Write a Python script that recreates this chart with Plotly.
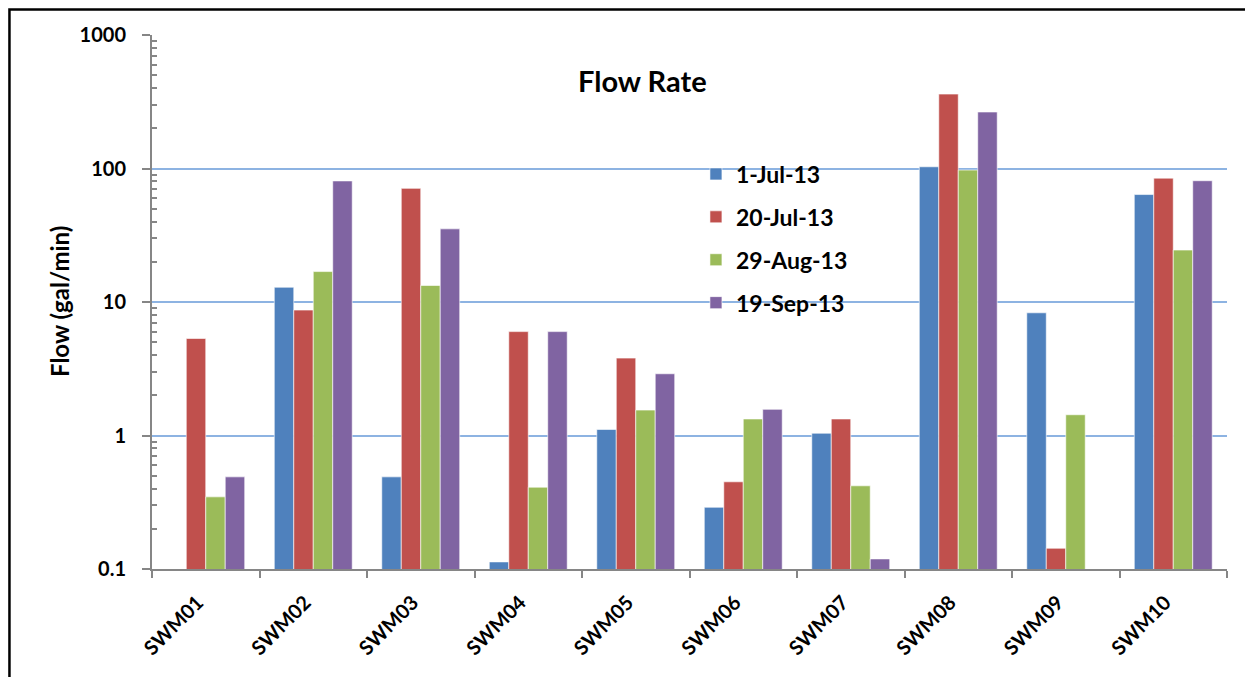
import plotly.graph_objects as go

categories = ["SWM01", "SWM02", "SWM03", "SWM04", "SWM05",
              "SWM06", "SWM07", "SWM08", "SWM09", "SWM10"]
series_names = ["1-Jul-13", "20-Jul-13", "29-Aug-13", "19-Sep-13"]
jul01 = [None, 12.9, 0.49, 0.113, 1.11, 0.29, 1.04, 103, 8.3, 63.8]
jul20 = [5.33, 8.7, 71, 6.0, 3.8, 0.45, 1.33, 361, 0.143, 84.7]
aug29 = [0.347, 16.9, 13.3, 0.41, 1.55, 1.33, 0.42, 97.3, 1.43, 24.5]
sep19 = [0.49, 80.7, 35.3, 6.0, 2.9, 1.57, 0.119, 265, None, 81]
colors = ["#4F81BD", "#C0504D", "#9BBB59", "#8064A2"]
y_ticks = [0.1, 1, 10, 100, 1000]
y_tick_text = ["0.1", "1", "10", "100", "1000"]
minor_ticks = [round(v * k, 6) for v in y_ticks[:-1] for k in range(2, 10)]

FONT = "Lato"

fig = go.Figure()
for name, vals, col in zip(series_names, [jul01, jul20, aug29, sep19], colors):
    fig.add_trace(go.Bar(
        x=categories, y=vals, name=name, legendgroup=name,
        marker=dict(color=col, line=dict(color="rgba(255,255,255,0.6)", width=1)),
    ))

fig.update_layout(
    width=1245, height=669,
    margin=dict(l=144, r=26, t=27, b=108, autoexpand=False),
    paper_bgcolor="white", plot_bgcolor="white",
    barmode="group", bargap=0.275, bargroupgap=0,
    font=dict(family=FONT, color="black"),
    showlegend=True,
    legend=dict(x=0.506, y=0.78, xanchor="left", yanchor="top",
                font=dict(family=FONT, size=23, color="black", weight="bold"),
                traceorder="grouped", tracegroupgap=10,
                bgcolor="rgba(0,0,0,0)", itemwidth=30),
    annotations=[
        dict(text="<b>Flow Rate</b>", x=0.456, y=0.915, xref="paper", yref="paper",
             showarrow=False, xanchor="center", yanchor="middle",
             font=dict(family=FONT, size=29, color="black")),
        dict(text="<b>Flow (gal/min)</b>", x=-0.0865, y=0.5, xref="paper", yref="paper",
             showarrow=False, xanchor="center", yanchor="middle", textangle=-90,
             font=dict(family=FONT, size=24, color="black")),
    ],
    shapes=[dict(type="rect", xref="paper", yref="paper",
                 x0=-0.1326, x1=1.0186, y0=-0.26, y1=1.0478,
                 line=dict(color="black", width=2.5), fillcolor="rgba(0,0,0,0)")],
)

fig.update_xaxes(
    showline=True, linecolor="#868686", linewidth=2,
    ticks="outside", ticklen=7, tickcolor="#868686", tickwidth=1.5,
    tickson="boundaries", tickangle=-45, ticklabelstandoff=12, ticklabelshift=-8,
    tickfont=dict(family=FONT, size=20, color="black", weight="bold"),
    showgrid=False, automargin=False,
)
fig.update_yaxes(
    type="log", range=[-1, 3],
    tickvals=y_ticks, ticktext=y_tick_text,
    showline=True, linecolor="#868686", linewidth=2,
    ticks="outside", ticklen=8, tickcolor="#868686", tickwidth=1.5,
    ticklabelstandoff=12,
    minor=dict(tickmode="array", tickvals=minor_ticks, ticks="inside", ticklen=5,
               tickcolor="#868686", tickwidth=1.5, showgrid=False),
    showgrid=True, gridcolor="#8DB3E2", gridwidth=1.5,
    tickfont=dict(family=FONT, size=20, color="black", weight="bold"),
    zeroline=False, automargin=False,
)

fig.write_html("out.html")
